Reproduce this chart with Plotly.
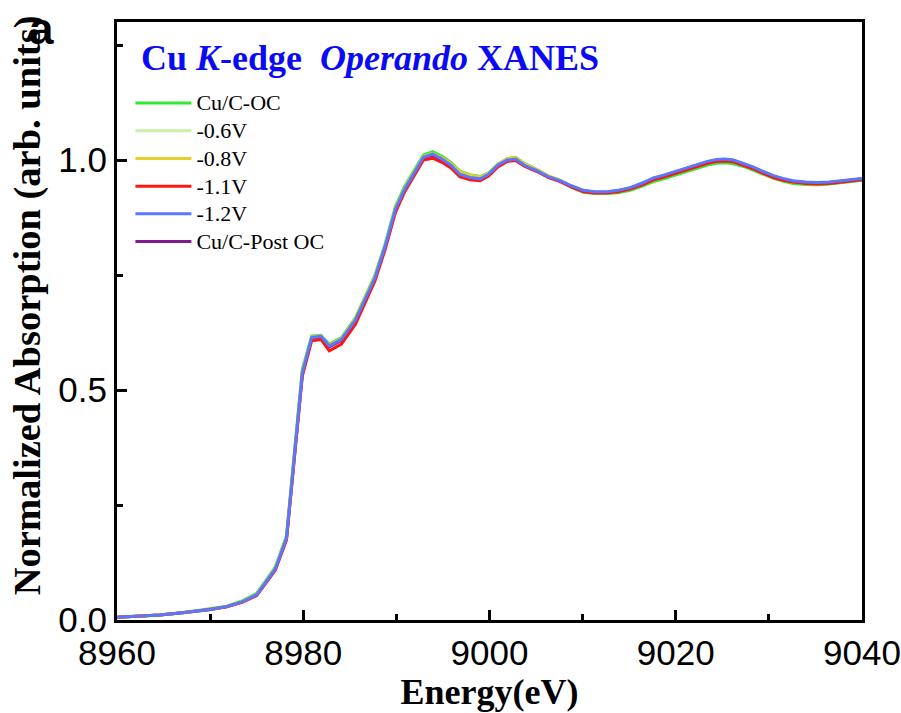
import plotly.graph_objects as go

# Photon energy grid (eV)
energy = [8960, 8962, 8964.6, 8967, 8970, 8971.8, 8973.5, 8975, 8977, 8978.2,
          8979.9, 8980.9, 8981.9, 8982.8, 8984.1, 8985.6, 8986.7, 8987.7, 8988.8, 8989.9,
          8990.9, 8991.8, 8992.9, 8993.9, 8994.9, 8995.9, 8996.8, 8997.9, 8999.0, 8999.9,
          9000.9, 9001.9, 9002.8, 9003.8, 9005.1, 9006.3, 9007.6, 9008.8, 9010.1, 9011.3,
          9012.6, 9013.8, 9015.1, 9016.4, 9017.6, 9018.7, 9019.8, 9021.0, 9022.3, 9023.4,
          9024.4, 9025.3, 9026.2, 9027.3, 9028.3, 9029.4, 9030.5, 9031.5, 9032.6, 9033.9,
          9035.2, 9036.5, 9037.7, 9038.7, 9039.6, 9040]

# Normalized absorption for each condition
cu_c_oc = [0.006, 0.008, 0.011, 0.016, 0.024, 0.030, 0.042, 0.058, 0.115, 0.183,
           0.545, 0.617, 0.619, 0.600, 0.614, 0.657, 0.705, 0.750, 0.818, 0.899,
           0.943, 0.975, 1.011, 1.018, 1.008, 0.994, 0.976, 0.968, 0.964, 0.972,
           0.991, 1.003, 1.006, 0.992, 0.979, 0.965, 0.955, 0.941, 0.930, 0.927,
           0.927, 0.929, 0.934, 0.943, 0.953, 0.959, 0.966, 0.974, 0.983, 0.989,
           0.993, 0.994, 0.992, 0.986, 0.978, 0.969, 0.960, 0.954, 0.949, 0.947,
           0.946, 0.948, 0.951, 0.954, 0.956, 0.956]

v_06 = [0.006, 0.008, 0.011, 0.016, 0.023, 0.029, 0.041, 0.056, 0.112, 0.179,
        0.539, 0.615, 0.617, 0.597, 0.611, 0.653, 0.701, 0.746, 0.814, 0.894,
        0.938, 0.970, 1.007, 1.014, 1.004, 0.991, 0.973, 0.966, 0.962, 0.970,
        0.990, 1.002, 1.005, 0.990, 0.978, 0.965, 0.955, 0.942, 0.932, 0.929,
        0.929, 0.932, 0.938, 0.947, 0.957, 0.963, 0.970, 0.978, 0.987, 0.993,
        0.997, 0.998, 0.996, 0.989, 0.981, 0.971, 0.962, 0.956, 0.951, 0.948,
        0.948, 0.949, 0.952, 0.955, 0.957, 0.957]

v_08 = [0.006, 0.008, 0.011, 0.016, 0.023, 0.029, 0.041, 0.056, 0.113, 0.180,
        0.540, 0.615, 0.618, 0.598, 0.612, 0.654, 0.702, 0.747, 0.815, 0.895,
        0.939, 0.971, 1.008, 1.014, 1.005, 0.992, 0.974, 0.967, 0.963, 0.971,
        0.991, 1.003, 1.006, 0.991, 0.979, 0.966, 0.956, 0.943, 0.932, 0.929,
        0.929, 0.932, 0.938, 0.947, 0.958, 0.964, 0.971, 0.979, 0.988, 0.994,
        0.998, 0.999, 0.997, 0.990, 0.982, 0.972, 0.963, 0.957, 0.952, 0.949,
        0.948, 0.950, 0.953, 0.956, 0.958, 0.958]

v_11 = [0.006, 0.008, 0.011, 0.016, 0.023, 0.029, 0.039, 0.053, 0.108, 0.174,
        0.530, 0.607, 0.610, 0.585, 0.600, 0.643, 0.692, 0.737, 0.806, 0.886,
        0.931, 0.963, 1.000, 1.004, 0.995, 0.982, 0.964, 0.957, 0.955, 0.965,
        0.985, 0.997, 0.999, 0.986, 0.975, 0.962, 0.953, 0.941, 0.931, 0.928,
        0.928, 0.931, 0.937, 0.946, 0.957, 0.963, 0.970, 0.978, 0.987, 0.993,
        0.997, 0.998, 0.996, 0.989, 0.981, 0.971, 0.962, 0.956, 0.952, 0.949,
        0.948, 0.949, 0.952, 0.955, 0.957, 0.957]

v_12 = [0.006, 0.008, 0.011, 0.016, 0.023, 0.029, 0.040, 0.055, 0.111, 0.178,
        0.537, 0.614, 0.617, 0.596, 0.610, 0.652, 0.700, 0.744, 0.813, 0.893,
        0.937, 0.969, 1.006, 1.013, 1.002, 0.988, 0.969, 0.962, 0.959, 0.969,
        0.989, 1.000, 1.002, 0.988, 0.977, 0.964, 0.955, 0.944, 0.934, 0.931,
        0.931, 0.934, 0.940, 0.950, 0.961, 0.967, 0.974, 0.982, 0.991, 0.997,
        1.001, 1.002, 1.000, 0.993, 0.985, 0.975, 0.966, 0.960, 0.955, 0.952,
        0.951, 0.952, 0.955, 0.958, 0.960, 0.960]

cu_c_post_oc = [0.006, 0.008, 0.011, 0.016, 0.023, 0.029, 0.040, 0.055, 0.110, 0.177,
                0.535, 0.612, 0.615, 0.594, 0.608, 0.650, 0.698, 0.742, 0.811, 0.891,
                0.935, 0.967, 1.004, 1.011, 1.000, 0.986, 0.967, 0.960, 0.957, 0.967,
                0.987, 0.998, 1.000, 0.987, 0.976, 0.963, 0.954, 0.943, 0.933, 0.930,
                0.930, 0.933, 0.939, 0.949, 0.960, 0.966, 0.973, 0.981, 0.990, 0.996,
                1.000, 1.001, 0.999, 0.992, 0.984, 0.974, 0.965, 0.959, 0.954, 0.951,
                0.950, 0.951, 0.954, 0.957, 0.959, 0.959]

# (label, values, colour, legend position) listed in drawing order
series = [
    ("Cu/C-Post OC", cu_c_post_oc, "#7E1E8E", 6),
    ("-0.6V", v_06, "#C6F0A2", 2),
    ("Cu/C-OC", cu_c_oc, "#33E833", 1),
    ("-0.8V", v_08, "#E6CF2A", 3),
    ("-1.1V", v_11, "#FF1414", 4),
    ("-1.2V", v_12, "#5A78FF", 5),
]

fig = go.Figure()
for name, vals, color, rank in series:
    fig.add_trace(go.Scatter(
        x=energy, y=vals, mode="lines",
        name=f'<span style="font-size:22px">{name}</span>',
        line=dict(color=color, width=3), legendrank=rank,
    ))

axis_common = dict(
    showline=True, linecolor="black", linewidth=3, mirror=True,
    ticks="inside", tickcolor="black", tickwidth=3, ticklen=10,
    showgrid=False, zeroline=False, automargin=False,
    tickfont=dict(family="Liberation Sans, Arial", size=35, color="black"),
)

fig.update_xaxes(
    range=[8960, 9040], tick0=8960, dtick=20,
    minor=dict(ticks="inside", dtick=10, ticklen=6, tickwidth=3, tickcolor="black"),
    title=dict(text="<b>Energy(eV)</b>",
               font=dict(family="Liberation Serif, Times New Roman", size=36, color="black"),
               standoff=4),
    **axis_common,
)
fig.update_yaxes(
    range=[0, 1.3], tick0=0, dtick=0.5, tickformat=".1f",
    minor=dict(ticks="inside", dtick=0.25, ticklen=6, tickwidth=3, tickcolor="black"),
    **axis_common,
)

fig.update_layout(
    width=901, height=713,
    margin=dict(l=117, r=39, t=22, b=93),
    paper_bgcolor="white", plot_bgcolor="white",
    showlegend=True,
    legend=dict(
        x=0.018, y=0.896, xanchor="left", yanchor="top",
        bgcolor="rgba(0,0,0,0)", borderwidth=0,
        font=dict(family="Liberation Serif, Times New Roman", size=19, color="black"),
        itemwidth=56, tracegroupgap=0,
    ),
    annotations=[
        # y-axis title
        dict(text="<b>Normalized Absorption (arb. units)</b>", textangle=-90,
             xref="paper", yref="paper", x=-0.119, y=0.527,
             xanchor="center", yanchor="middle", showarrow=False,
             font=dict(family="Liberation Serif, Times New Roman", size=38.5, color="black")),
        # in-plot heading
        dict(text="<b>Cu <i>K</i>-edge\u00a0\u00a0<i>Operando</i> XANES</b>",
             xref="paper", yref="paper", x=0.03, y=0.977, xanchor="left", yanchor="top",
             showarrow=False,
             font=dict(family="Liberation Serif, Times New Roman", size=36, color="#0A0AF5")),
        # panel letter
        dict(text="<b>a</b>", xref="paper", yref="paper", x=-0.102, y=1.034,
             xanchor="center", yanchor="top", showarrow=False,
             font=dict(family="Liberation Sans, Arial", size=44, color="black")),
    ],
)

fig.write_html("out.html")
